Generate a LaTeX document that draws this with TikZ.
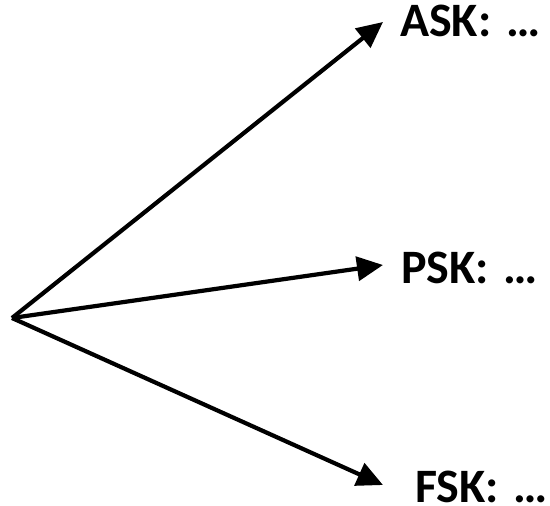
\documentclass[tikz,border=0pt]{standalone}
\usepackage{fontspec}
\setmainfont{Carlito}
\usetikzlibrary{arrows.meta}
\newcommand{\more}{\hspace{15pt}…}
\begin{document}
\begin{tikzpicture}[x=1pt,y=-1pt,
  branch/.style={line width=4.2pt,-{Triangle[length=26pt,width=24pt]}},
  label/.style={anchor=base west,inner sep=0pt,font=\fontsize{48}{52}\selectfont\bfseries}]
  \useasboundingbox (0,0) rectangle (550,506);
  % common start point of the three branches
  \coordinate (o) at (12,318);
  % arrow tips
  \coordinate (tA) at (383,22);
  \coordinate (tP) at (383,265);
  \coordinate (tF) at (383,485);
  % labels
  \node[label] (ask) at (400,37) {ASK:\more};
  \node[label] (psk) at (401,283) {PSK:\more};
  \node[label] (fsk) at (415,502) {FSK:\more};
  \draw[branch] (o) -- (tA);
  \draw[branch] (o) -- (tP);
  \draw[branch] (o) -- (tF);
\end{tikzpicture}
\end{document}
